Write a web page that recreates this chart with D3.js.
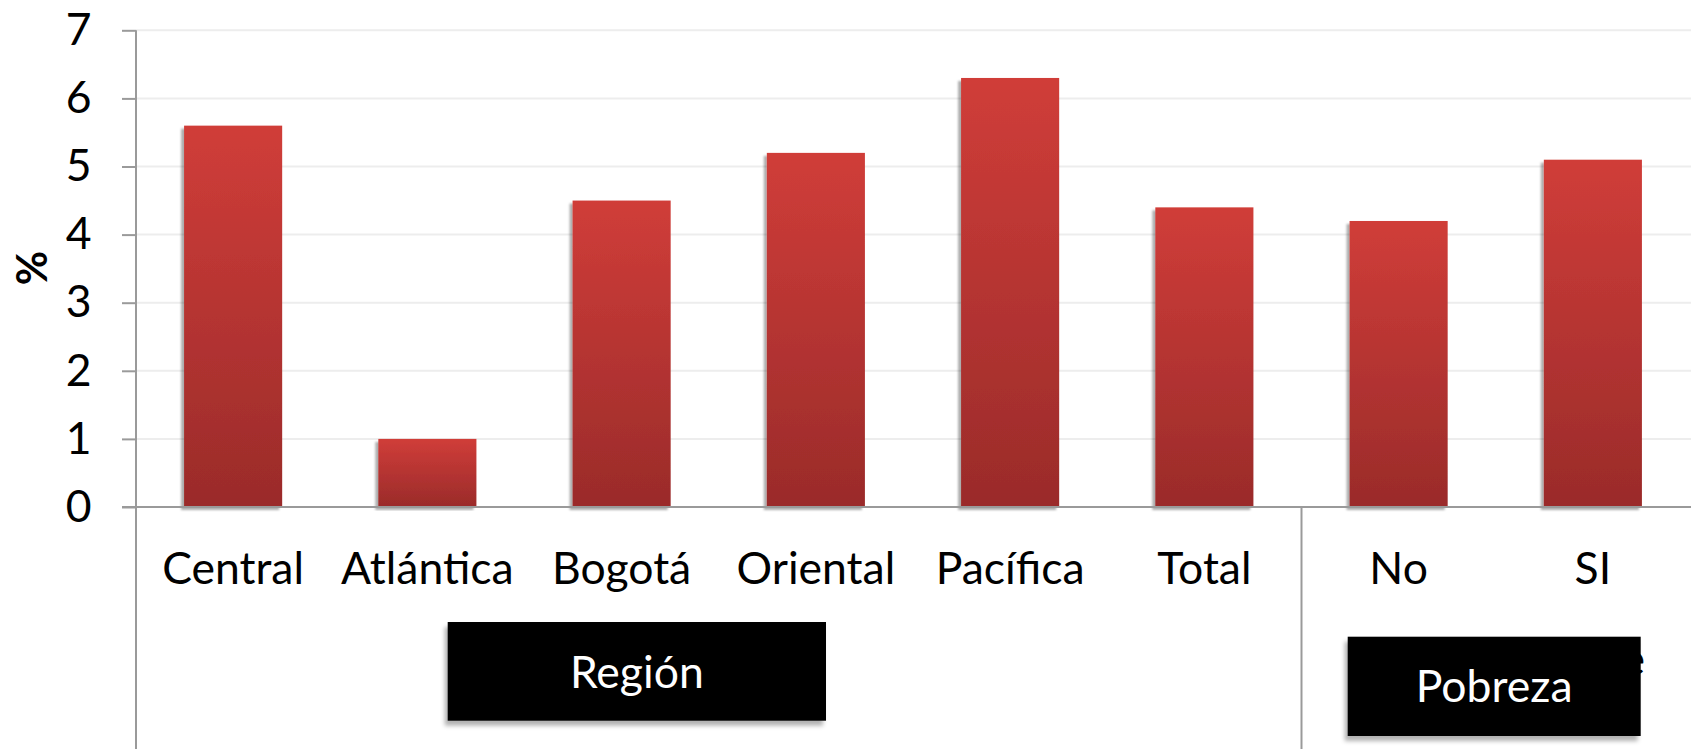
<!DOCTYPE html>
<html>
<head>
<meta charset="utf-8">
<script src="https://cdn.jsdelivr.net/npm/d3@7"></script>
<style>
  html, body { margin: 0; padding: 0; background: #fff; }
  svg { display: block; }
  text { font-family: Lato, "Open Sans", sans-serif; }
</style>
</head>
<body>
<svg id="chart" width="1691" height="749"></svg>
<script>
// ---- data ----
const categories = ["Central", "Atlántica", "Bogotá", "Oriental", "Pacífica", "Total", "No", "SI"];
const values = [5.6, 1.0, 4.5, 5.2, 6.3, 4.4, 4.2, 5.1];
const groupNames = ["Región", "Pobreza"];
const groupMembers = [["Central", "Atlántica", "Bogotá", "Oriental", "Pacífica", "Total"], ["No", "SI"]];
const yTicks = [0, 1, 2, 3, 4, 5, 6, 7];
const yLabel = "%";

(function () {
// ---- layout ----
const W = 1691, H = 749;
const mLeft = 136, mRight = 1690, mTop = 30.3, mBottom = 507;
const FS = 44.5;

const svg = d3.select("#chart");
const defs = svg.append("defs");

const grad = defs.append("linearGradient").attr("id", "barGrad")
  .attr("x1", 0).attr("y1", 0).attr("x2", 0).attr("y2", 1);
grad.append("stop").attr("offset", "0%").attr("stop-color", "#D03D39");
grad.append("stop").attr("offset", "100%").attr("stop-color", "#9A2B2A");

const sh = defs.append("filter").attr("id", "barShadow")
  .attr("x", "-20%").attr("y", "-5%").attr("width", "140%").attr("height", "110%");
sh.append("feDropShadow").attr("dx", -3).attr("dy", 3).attr("stdDeviation", 1.2)
  .attr("flood-color", "#000").attr("flood-opacity", 0.32);

const bsh = defs.append("filter").attr("id", "boxShadow")
  .attr("x", "-10%").attr("y", "-10%").attr("width", "120%").attr("height", "130%");
bsh.append("feDropShadow").attr("dx", -3).attr("dy", 5).attr("stdDeviation", 2)
  .attr("flood-color", "#000").attr("flood-opacity", 0.3);

const x = d3.scaleBand().domain(categories).range([mLeft, mRight])
  .paddingInner(0.495).paddingOuter(0.2475);
const y = d3.scaleLinear().domain([0, 7]).range([mBottom, mTop]);

// gridlines
svg.append("g").selectAll("line").data(yTicks.filter(d => d > 0)).join("line")
  .attr("x1", mLeft).attr("x2", W)
  .attr("y1", d => y(d)).attr("y2", d => y(d))
  .attr("stroke", "#EDEDED").attr("stroke-width", 2);

// y axis (ticks + labels)
const yAxis = d3.axisLeft(y).tickValues(yTicks).tickSize(14).tickPadding(30.5).tickFormat(d3.format("d"));
const gy = svg.append("g").attr("transform", `translate(${mLeft},0)`).call(yAxis);
gy.select(".domain").remove();
gy.selectAll(".tick line").attr("stroke", "#9A9A9A").attr("stroke-width", 2);
gy.selectAll(".tick text").attr("font-size", FS).attr("fill", "#000")
  .attr("font-family", "Lato, 'Open Sans', sans-serif");

// bars
svg.append("g").selectAll("rect").data(categories).join("rect")
  .attr("x", d => x(d))
  .attr("width", x.bandwidth())
  .attr("y", (d, i) => y(values[i]))
  .attr("height", (d, i) => y(0) - y(values[i]))
  .attr("fill", "url(#barGrad)")
  .attr("filter", "url(#barShadow)");

// axis lines
svg.append("line").attr("x1", mLeft).attr("x2", mLeft).attr("y1", y(7)).attr("y2", H)
  .attr("stroke", "#9A9A9A").attr("stroke-width", 2);
svg.append("line").attr("x1", mLeft - 14).attr("x2", W).attr("y1", y(0)).attr("y2", y(0))
  .attr("stroke", "#9A9A9A").attr("stroke-width", 2);

// group divider(s)
const step = x.step();
for (let g = 1; g < groupMembers.length; g++) {
  const first = groupMembers[g][0];
  const xd = x(first) - step * x.paddingInner() / 2;
  svg.append("line").attr("x1", xd).attr("x2", xd).attr("y1", y(0)).attr("y2", H)
    .attr("stroke", "#9A9A9A").attr("stroke-width", 2);
}

// category labels
svg.append("g").selectAll("text").data(categories).join("text")
  .attr("x", d => x(d) + x.bandwidth() / 2)
  .attr("y", 584)
  .attr("text-anchor", "middle")
  .attr("font-size", FS)
  .attr("fill", "#000")
  .text(d => d);

// y label
svg.append("text")
  .attr("transform", "translate(47,268) rotate(-90)")
  .attr("text-anchor", "middle")
  .attr("font-size", 42)
  .attr("font-weight", "bold")
  .attr("fill", "#000")
  .text(yLabel);

// glyph of a hidden label peeking out behind the Pobreza box
svg.append("text").attr("x", 1645).attr("y", 675).attr("text-anchor", "end")
  .attr("font-size", FS).attr("fill", "#000").text("e");

// group label boxes
const boxes = [
  {x: 447.7, y: 622, w: 378.3, h: 98.7, ty: 688},
  {x: 1347.7, y: 636.7, w: 293, h: 99.3, ty: 702}
];
groupNames.forEach((name, i) => {
  const b = boxes[i];
  svg.append("rect").attr("x", b.x).attr("y", b.y).attr("width", b.w).attr("height", b.h)
    .attr("fill", "#000").attr("filter", "url(#boxShadow)");
  svg.append("text").attr("x", b.x + b.w / 2).attr("y", b.ty)
    .attr("text-anchor", "middle").attr("font-size", FS).attr("fill", "#fff").text(name);
});
})();
</script>
</body>
</html>
